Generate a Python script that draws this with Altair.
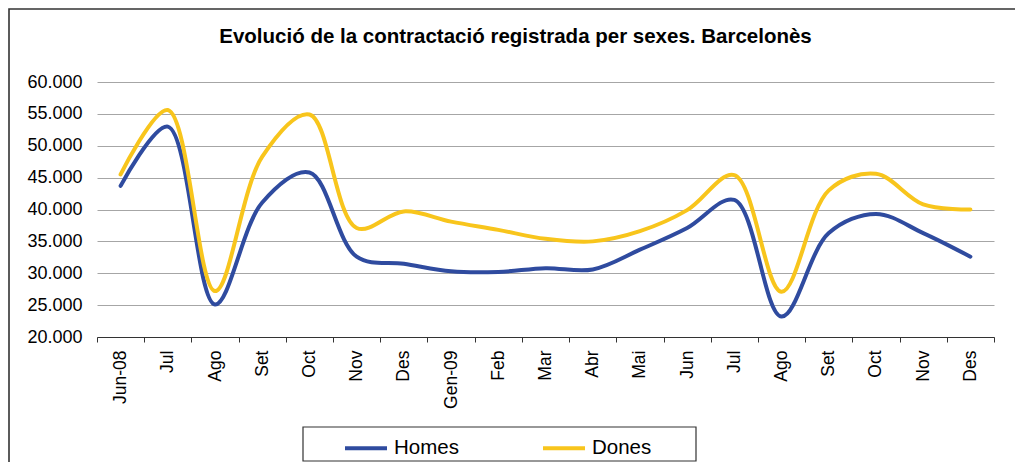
import json
import altair as alt
import pandas as pd

months = ["Jun-08", "Jul", "Ago", "Set", "Oct", "Nov", "Des", "Gen-09", "Feb", "Mar",
          "Abr", "Mai", "Jun", "Jul", "Ago", "Set", "Oct", "Nov", "Des"]
homes = [43700, 53000, 25100, 41100, 45800, 32600, 31500, 30300, 30200, 30800,
         30600, 33700, 37100, 41500, 23200, 36300, 39300, 36300, 32600]
dones = [45500, 55600, 27200, 48300, 54900, 37100, 39700, 38100, 36800, 35400,
         35000, 36600, 39900, 45400, 27100, 43000, 45600, 40800, 40000]
series = ["Homes", "Dones"]
colors = ["#2F4B9F", "#F8C51C"]
y_ticks = [20000, 25000, 30000, 35000, 40000, 45000, 50000, 55000, 60000]
title_text = "Evolució de la contractació registrada per sexes. Barcelonès"

rows = []
for i, m in enumerate(months):
    rows.append({"idx": i, "serie": "Homes", "valor": homes[i]})
    rows.append({"idx": i, "serie": "Dones", "valor": dones[i]})
df = pd.DataFrame(rows)

W, H = 897, 255
FONT = "Liberation Sans"
label_expr = json.dumps(months) + "[datum.value]"

lines = alt.Chart(df).mark_line(interpolate="catmull-rom", strokeWidth=4, strokeCap="round").encode(
    x=alt.X("idx:O", title=None,
            scale=alt.Scale(paddingInner=0, paddingOuter=0),
            axis=alt.Axis(labelExpr=label_expr, labelAngle=270, labelAlign="right",
                          labelBaseline="middle", labelFontSize=17.5, labelFont=FONT,
                          labelColor="#000", labelPadding=8, tickBand="extent",
                          tickSize=5, tickColor="#333", domainColor="#333",
                          domainWidth=1.2, grid=False)),
    y=alt.Y("valor:Q", title=None,
            scale=alt.Scale(domain=[20000, 60000], nice=False, zero=False),
            axis=alt.Axis(values=y_ticks, labelExpr="replace(format(datum.value, ','), ',', '.')",
                          labelFontSize=18, labelFont=FONT, labelColor="#000",
                          labelPadding=15, ticks=False, domain=False,
                          gridColor="#A6A6A6", gridWidth=1)),
    color=alt.Color("serie:N", scale=alt.Scale(domain=series, range=colors),
                    legend=alt.Legend(title=None, orient="none", legendX=246, legendY=343,
                                      direction="horizontal", symbolType="stroke",
                                      symbolSize=1764, symbolStrokeWidth=4,
                                      labelFontSize=20.5, labelFont=FONT, labelColor="#000",
                                      labelOffset=5, columnPadding=76, padding=0)),
)

one = pd.DataFrame({"k": [0]})
frame = alt.Chart(one).mark_rect(fill=None, stroke="#333", strokeWidth=1.6).encode(
    x=alt.value(-88), x2=alt.value(W + 200), y=alt.value(-73), y2=alt.value(H + 300))
legend_box = alt.Chart(one).mark_rect(fill=None, stroke="#333", strokeWidth=1.2).encode(
    x=alt.value(206), x2=alt.value(599), y=alt.value(345), y2=alt.value(H + 124))
title = alt.Chart(one).mark_text(font=FONT, fontSize=20.5, fontWeight="bold", color="#000",
                                 align="center", baseline="alphabetic").encode(
    x=alt.value(418.5), y=alt.value(-39), text=alt.value(title_text))

chart = alt.layer(frame, legend_box, title, lines).properties(
    width=W, height=H,
    autosize=alt.AutoSizeParams(type="none"),
    padding={"left": 89, "top": 74, "right": 21, "bottom": 125},
).configure(background="white").configure_view(stroke=None)

chart.save("out.html", embed_options={"renderer": "svg", "actions": False})
